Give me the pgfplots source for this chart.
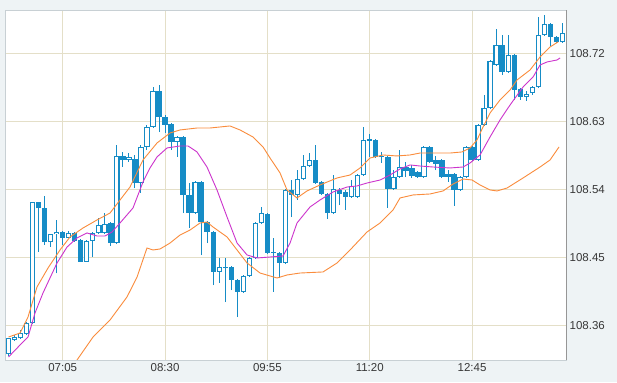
\documentclass[border=0pt]{standalone}
\usepackage{fontspec}
\setmainfont{Liberation Sans}
\usepackage{pgfplots}
\pgfplotsset{compat=1.18}
\usepackage{pgfplotstable}
\definecolor{bgc}{RGB}{238,243,245}
\definecolor{gridc}{RGB}{228,223,200}
\definecolor{candle}{RGB}{22,140,198}
\definecolor{macol}{RGB}{204,51,204}
\definecolor{bandcol}{RGB}{250,140,60}
\definecolor{framec}{RGB}{200,208,212}
\definecolor{rightc}{RGB}{150,150,150}
\definecolor{labc}{RGB}{55,55,55}

\pgfplotstableread{
k O H L C
0 108.3216 108.3432 108.3194 108.3428
1 108.3406 108.3472 108.3392 108.3449
2 108.3428 108.3538 108.3419 108.3494
3 108.3485 108.3648 108.3472 108.3627
4 108.3627 108.5232 108.3617 108.5228
7 108.4699 108.4808 108.4640 108.4804
8 108.4804 108.4994 108.4288 108.4839
10 108.4759 108.4852 108.4755 108.4826
13 108.4442 108.4729 108.4438 108.4716
14 108.4716 108.4835 108.4508 108.4818
15 108.4822 108.5016 108.4808 108.4928
16 108.4822 108.5086 108.4808 108.4940
18 108.4689 108.5986 108.4676 108.5841
20 108.5788 108.5880 108.5762 108.5828
22 108.5483 108.5986 108.5351 108.5960
23 108.5960 108.6251 108.5920 108.6225
24 108.6225 108.6754 108.6211 108.6701
28 108.6026 108.6105 108.5828 108.6092
31 108.5086 108.5510 108.5070 108.5497
35 108.4306 108.4490 108.4160 108.4371
39 108.4041 108.4266 108.4028 108.4253
40 108.4253 108.4504 108.4240 108.4490
41 108.4490 108.4967 108.4478 108.4954
42 108.4954 108.5166 108.4940 108.5086
44 108.4557 108.4755 108.4041 108.4570
46 108.4425 108.5404 108.4411 108.5391
48 108.5325 108.5655 108.5259 108.5536
49 108.5536 108.5854 108.5520 108.5708
50 108.5708 108.5880 108.5695 108.5788
54 108.5086 108.5589 108.5070 108.5404
57 108.5298 108.5520 108.5285 108.5444
58 108.5298 108.5603 108.5285 108.5589
59 108.5589 108.6225 108.5576 108.6053
62 108.5828 108.5894 108.5748 108.5841
64 108.5404 108.5655 108.5391 108.5563
65 108.5563 108.5920 108.5550 108.5695
69 108.5563 108.5973 108.5550 108.5960
75 108.5391 108.5576 108.5378 108.5563
76 108.5563 108.5973 108.5550 108.5960
78 108.5788 108.6264 108.5775 108.6251
79 108.6251 108.6648 108.6238 108.6476
80 108.6476 108.7111 108.6463 108.7098
81 108.7045 108.7522 108.7032 108.7310
83 108.6953 108.7442 108.6939 108.7178
86 108.6622 108.6701 108.6569 108.6661
87 108.6675 108.6767 108.6648 108.6754
88 108.6754 108.7680 108.6740 108.7442
89 108.7442 108.7707 108.7429 108.7588
92 108.7350 108.7601 108.7336 108.7469
}\bull

\pgfplotstableread{
k O H L C
5 108.5228 108.5232 108.4574 108.5149
6 108.5149 108.5311 108.4663 108.4699
9 108.4839 108.4848 108.4663 108.4759
11 108.4818 108.4835 108.4703 108.4720
12 108.4729 108.4742 108.4438 108.4442
17 108.4954 108.4967 108.4650 108.4689
19 108.5841 108.5894 108.5695 108.5788
21 108.5801 108.5854 108.5417 108.5483
25 108.6701 108.6780 108.6158 108.6357
26 108.6357 108.6383 108.6145 108.6251
27 108.6264 108.6277 108.5920 108.6026
29 108.6092 108.6105 108.5086 108.5325
30 108.5325 108.5483 108.4888 108.5086
32 108.5497 108.5510 108.4530 108.4967
33 108.4967 108.4980 108.4689 108.4835
34 108.4835 108.4848 108.4133 108.4306
36 108.4371 108.4490 108.3908 108.4352
37 108.4371 108.4385 108.4067 108.4200
38 108.4200 108.4213 108.3710 108.4041
43 108.5070 108.5086 108.4543 108.4557
45 108.4557 108.4570 108.4226 108.4425
47 108.5391 108.5520 108.5030 108.5325
51 108.5788 108.5986 108.5470 108.5483
52 108.5497 108.5510 108.5325 108.5338
53 108.5338 108.5351 108.5007 108.5086
55 108.5391 108.5417 108.5190 108.5338
56 108.5364 108.5391 108.5126 108.5298
60 108.6066 108.6132 108.5828 108.6040
61 108.6053 108.6066 108.5815 108.5828
63 108.5828 108.5841 108.5153 108.5404
66 108.5695 108.5762 108.5560 108.5642
67 108.5682 108.5722 108.5550 108.5576
68 108.5629 108.5642 108.5550 108.5563
70 108.5960 108.5973 108.5748 108.5762
71 108.5788 108.5841 108.5655 108.5735
72 108.5788 108.5801 108.5550 108.5563
73 108.5603 108.5655 108.5497 108.5563
74 108.5603 108.5616 108.5180 108.5391
77 108.5960 108.5973 108.5775 108.5788
82 108.7310 108.7442 108.6913 108.6953
84 108.7178 108.7191 108.6582 108.6714
85 108.6727 108.6740 108.6582 108.6622
90 108.7588 108.7601 108.7297 108.7416
91 108.7416 108.7429 108.7336 108.7350
}\bear

\begin{document}
\begin{tikzpicture}[x=1pt,y=1pt]
\fill[bgc] (-5.5,-22) rectangle (611.5,360);
\begin{axis}[
  at={(0,0)}, anchor=south west,
  scale only axis, width=560.5pt, height=349.5pt,
  xmin=-0.5, xmax=92.6, ymin=108.3141, ymax=108.7766,
  axis background/.style={fill=white},
  axis line style={draw=framec, line width=0.8pt},
  xtick={9,26,43,60,77},
  xticklabels={07:05,08:30,09:55,11:20,12:45},
  ytick={108.36,108.45,108.54,108.63,108.72},
  yticklabels={108.36,108.45,108.54,108.63,108.72},
  yticklabel pos=right,
  major tick length=0pt,
  grid=major,
  major grid style={draw=gridc, line width=0.9pt},
  /pgf/number format/assume math mode=true,
  ticklabel style={font=\fontsize{11.5}{13}\selectfont, text=labc},
  xticklabel style={anchor=north, inner sep=0pt, yshift=-3pt},
  yticklabel style={anchor=west, inner sep=0pt, xshift=3.5pt},
  clip=true,
]
% wicks
\addplot[mark=none, draw=candle, line width=1pt, quiver={u=0, v=\thisrow{H}-\thisrow{L}}] table[x=k, y=L] {\bull};
\addplot[mark=none, draw=candle, line width=1pt, quiver={u=0, v=\thisrow{H}-\thisrow{L}}] table[x=k, y=L] {\bear};
% bearish bodies (filled)
\addplot[mark=none, draw=candle, line width=5.4pt, quiver={u=0, v=\thisrow{O}-\thisrow{C}}] table[x=k, y=C] {\bear};
% bullish bodies (hollow)
\addplot[mark=none, draw=candle, line width=5.4pt, quiver={u=0, v=\thisrow{C}-\thisrow{O}}] table[x=k, y=O] {\bull};
\addplot[mark=none, draw=white, line width=3.2pt, quiver={u=0, v={max(\thisrow{C}-\thisrow{O}-0.00265,0)}}] table[x=k, y expr=\thisrow{O}+0.00132] {\bull};

% moving average
\addplot[macol, line width=0.9pt, mark=none] coordinates {
(0,108.3181) (1.91,108.3339) (3.24,108.3445) (4.40,108.3763) (5.73,108.4028)
(6.89,108.4226) (8.06,108.4425) (9.72,108.4636) (11.38,108.4756) (13.04,108.4822)
(14.70,108.4782) (16.03,108.4782) (17.19,108.4835) (18.52,108.4954) (20.68,108.5153)
(22.34,108.5497) (23.5,108.5682) (24.67,108.5828) (26.33,108.5947) (28.49,108.5973)
(29.82,108.5973) (31.31,108.5894) (32.97,108.5695) (34.63,108.5391) (36.30,108.5033)
(37.96,108.4689) (39.62,108.4531) (41.28,108.4491) (43.44,108.4504) (45.6,108.4517)
(46.76,108.4689) (47.92,108.4954) (50.08,108.5166) (51.74,108.5258) (53.90,108.5364)
(56.23,108.5430) (57.89,108.5444) (59.55,108.5483) (61.71,108.5523) (63.37,108.5589)
(65.03,108.5669) (66.69,108.5722) (68.36,108.5708) (70.52,108.5695) (73.34,108.5682)
(75.50,108.5695) (76.66,108.5748) (78.32,108.5854) (79.98,108.6092) (81.64,108.6317)
(83.31,108.6516) (85.47,108.6754) (87.13,108.6886) (88.29,108.7045) (89.45,108.7085)
(91.11,108.7111) (91.61,108.7138)
};
% upper band
\addplot[bandcol, line width=0.9pt, mark=none] coordinates {
(0,108.3445) (1.91,108.3498) (3.24,108.3710) (4.73,108.4107) (6.56,108.4358)
(8.55,108.4597) (10.22,108.4769) (12.38,108.4888) (14.70,108.4994) (16.86,108.5086)
(18.52,108.5258) (20.18,108.5430) (22.34,108.5788) (24.67,108.6013) (26.83,108.6145)
(28.49,108.6185) (31.31,108.6211) (33.47,108.6211) (36.79,108.6238) (38.46,108.6185)
(40.61,108.6092) (42.28,108.5960) (43.44,108.5814) (45.1,108.5616) (46.26,108.5391)
(47.92,108.5285) (49.58,108.5378) (51.74,108.5457) (54.57,108.5550) (56.73,108.5589)
(58.39,108.5682) (60.05,108.5814) (62.21,108.5854) (64.53,108.5841) (66.69,108.5854)
(68.36,108.5880) (70.52,108.5880) (73.34,108.5880) (75.33,108.5894) (76.66,108.5947)
(77.82,108.6053) (78.82,108.6225) (79.98,108.6410) (81.64,108.6582) (83.31,108.6714)
(84.47,108.6847) (86.63,108.6979) (88.29,108.7151) (89.95,108.7283) (91.28,108.7350)
};
% lower band
\addplot[bandcol, line width=0.9pt, mark=none] coordinates {
(10.2,108.2942) (11.38,108.3141) (14.04,108.3445) (16.86,108.3670) (19.68,108.3975)
(21.35,108.4239) (23.0,108.4623) (24.0,108.4597) (25.17,108.4610) (26.83,108.4689)
(28.49,108.4795) (30.15,108.4861) (31.81,108.4954) (32.97,108.4967) (33.97,108.4901)
(36.3,108.4769) (37.96,108.4597) (39.62,108.4425) (41.78,108.4292) (44.6,108.4226)
(46.26,108.4266) (48.42,108.4292) (52.24,108.4306) (54.57,108.4425) (56.73,108.4597)
(59.55,108.4835) (61.71,108.4954) (63.87,108.5126) (65.03,108.5285) (67.19,108.5325)
(70.02,108.5338) (72.18,108.5378) (73.84,108.5470) (75.5,108.5536) (77.0,108.5523)
(78.32,108.5457) (79.98,108.5391) (81.15,108.5378) (82.81,108.5417) (85.47,108.5550)
(88.29,108.5695) (89.95,108.5788) (91.44,108.5960)
};
\end{axis}
\draw[rightc, line width=0.9pt] (560.5,0) -- (560.5,349.5);
\end{tikzpicture}
\end{document}
